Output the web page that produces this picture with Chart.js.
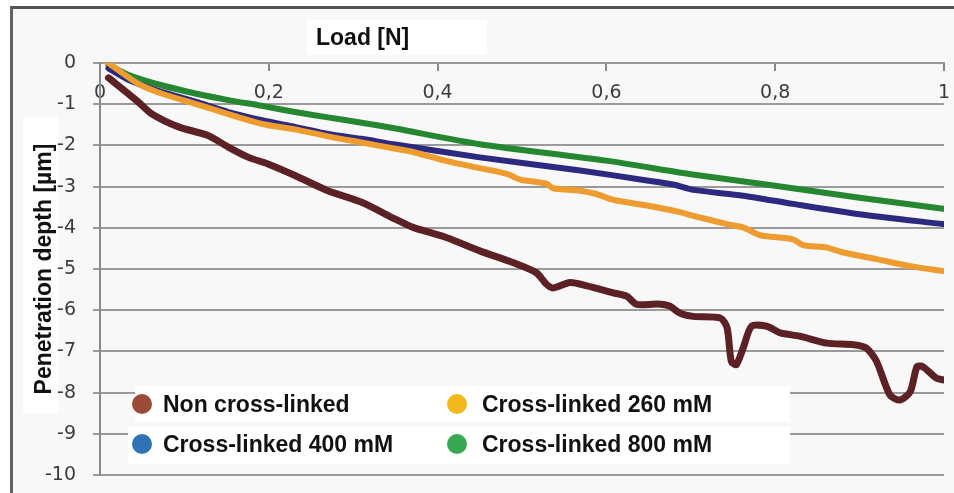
<!DOCTYPE html>
<html>
<head>
<meta charset="utf-8">
<script src="https://cdn.jsdelivr.net/npm/chart.js@4"></script>
<style>
    html, body { margin: 0; padding: 0; background: #fff; }
    #frame {
        position: absolute; left: 10px; top: 6px; width: 944px; height: 487px;
        box-sizing: border-box; border-left: 3px solid #636363; border-top: 3px solid #555;
        background: #f8f8f8;
    }
    #box { position: relative; width: 941px; height: 484px; }
</style>
</head>
<body>
<div id="frame"><div id="box"><canvas id="myChart"></canvas></div></div>
<script>
const seriesNames = ['Non cross-linked', 'Cross-linked 260 mM', 'Cross-linked 400 mM', 'Cross-linked 800 mM'];
const xTitle = 'Load [N]';
const yTitle = 'Penetration depth [µm]';

// load [N] / penetration depth [µm]
const loadNon = [0.010, 0.045, 0.061, 0.093, 0.128, 0.152, 0.176, 0.199, 0.231, 0.270, 0.310, 0.350, 0.371, 0.411,
    0.450, 0.490, 0.517, 0.529, 0.537, 0.557, 0.577, 0.608, 0.624, 0.636, 0.660, 0.675, 0.687, 0.703, 0.735, 0.743,
    0.748, 0.754, 0.762, 0.772, 0.790, 0.806, 0.829, 0.861, 0.893, 0.908, 0.920, 0.936, 0.948, 0.960, 0.968, 0.975,
    0.991, 0.999];
const depthNon = [-0.36, -0.94, -1.23, -1.55, -1.76, -2.04, -2.29, -2.45, -2.73, -3.10, -3.38, -3.79, -3.99, -4.24,
    -4.56, -4.85, -5.09, -5.37, -5.46, -5.33, -5.41, -5.58, -5.66, -5.86, -5.85, -5.90, -6.07, -6.15, -6.19, -6.43,
    -7.24, -7.32, -6.92, -6.39, -6.39, -6.55, -6.63, -6.80, -6.84, -6.92, -7.24, -8.06, -8.18, -7.98, -7.37, -7.37,
    -7.65, -7.69];

const load260 = [0.008, 0.045, 0.073, 0.113, 0.152, 0.192, 0.231, 0.270, 0.310, 0.350, 0.371, 0.411, 0.450, 0.482,
    0.498, 0.529, 0.537, 0.569, 0.588, 0.608, 0.648, 0.687, 0.703, 0.743, 0.762, 0.782, 0.821, 0.833, 0.861, 0.881,
    0.920, 0.960, 0.999];
const depth260 = [0.03, -0.50, -0.74, -0.99, -1.24, -1.48, -1.61, -1.78, -1.93, -2.08, -2.16, -2.38, -2.55, -2.69,
    -2.83, -2.93, -3.04, -3.10, -3.18, -3.32, -3.46, -3.62, -3.71, -3.91, -3.99, -4.18, -4.28, -4.42, -4.48, -4.60,
    -4.76, -4.93, -5.05];

const load400 = [0.010, 0.034, 0.073, 0.113, 0.152, 0.192, 0.231, 0.270, 0.310, 0.350, 0.450, 0.569, 0.648, 0.679,
    0.703, 0.762, 0.821, 0.900, 0.999];
const depth400 = [-0.13, -0.41, -0.70, -0.94, -1.19, -1.39, -1.55, -1.72, -1.84, -1.98, -2.29, -2.61, -2.85, -2.95,
    -3.08, -3.22, -3.42, -3.67, -3.91];

const load800 = [0.010, 0.034, 0.073, 0.113, 0.152, 0.192, 0.231, 0.270, 0.310, 0.350, 0.450, 0.600, 0.700, 0.800,
    0.900, 0.999];
const depth800 = [-0.05, -0.29, -0.54, -0.74, -0.90, -1.04, -1.19, -1.32, -1.45, -1.59, -1.97, -2.37, -2.70, -2.98,
    -3.27, -3.54];

const lineColors = ['#5b2125', '#ee9b2f', '#2b2a80', '#25872f'];
const lineWidths = [7, 6, 6, 6];
const markerColors = ['#9c4b38', '#f2b81e', '#2e74b5', '#39a853'];

const boldFont = 'bold 23px "Liberation Sans", Arial, sans-serif';

function pairs(xs, ys) {
    return xs.map((x, i) => ({x: x, y: ys[i]}));
}

// white label boxes, x title and the two-column legend
const decorations = {
    id: 'decorations',
    beforeDraw(chart) {
        const ctx = chart.ctx;
        ctx.save();
        ctx.fillStyle = '#fff';
        ctx.fillRect(294, 11, 180, 35);
        ctx.fillRect(10, 108, 35, 296);
        ctx.fillStyle = '#111';
        ctx.font = boldFont;
        ctx.textBaseline = 'middle';
        ctx.fillText(xTitle, 303, 30);
        ctx.restore();
    },
    afterDraw(chart) {
        const ctx = chart.ctx;
        ctx.save();
        ctx.fillStyle = '#fff';
        ctx.fillRect(122, 377, 655, 36);
        ctx.fillRect(115, 418, 662, 37);
        ctx.font = boldFont;
        ctx.textBaseline = 'middle';
        chart.data.datasets.forEach((ds, i) => {
            const col = i % 2, row = Math.floor(i / 2);
            const cx = col ? 444 : 129;
            const cy = row ? 435 : 395;
            ctx.fillStyle = markerColors[i];
            ctx.beginPath();
            ctx.arc(cx, cy, 10, 0, Math.PI * 2);
            ctx.fill();
            ctx.fillStyle = '#111';
            ctx.fillText(ds.label, col ? 469 : 150, cy + 2);
        });
        ctx.restore();
    }
};

const ctx = document.getElementById('myChart');

new Chart(ctx, {
    type: 'line',
    data: {
        datasets: [
            {label: seriesNames[0], data: pairs(loadNon, depthNon)},
            {label: seriesNames[1], data: pairs(load260, depth260)},
            {label: seriesNames[2], data: pairs(load400, depth400)},
            {label: seriesNames[3], data: pairs(load800, depth800)}
        ].map((ds, i) => Object.assign(ds, {
            borderColor: lineColors[i],
            backgroundColor: lineColors[i],
            borderWidth: lineWidths[i],
            borderCapStyle: 'round',
            borderJoinStyle: 'round',
            pointRadius: 0,
            tension: 0.25,
            fill: false
        }))
    },
    options: {
        responsive: true,
        maintainAspectRatio: false,
        animation: false,
        layout: {padding: {left: 0, top: 54, right: 10, bottom: 18}},
        plugins: {
            legend: {display: false},
            tooltip: {enabled: false}
        },
        scales: {
            x: {
                type: 'linear',
                position: {y: 0},
                min: 0,
                max: 1,
                afterFit: (s) => { s.height = 0; s.paddingLeft = 0; s.paddingRight = 0; },
                border: {display: true, color: '#999', width: 2},
                grid: {drawOnChartArea: false, tickLength: 7, color: '#888', lineWidth: 2},
                ticks: {
                    stepSize: 0.2,
                    padding: 12,
                    color: '#3c3c3c',
                    font: {family: '"DejaVu Sans", sans-serif', size: 19},
                    callback: (v) => String(+v.toFixed(1)).replace('.', ',')
                }
            },
            y: {
                type: 'linear',
                min: -10,
                max: 0,
                afterFit: (s) => { s.width = 87; s.paddingTop = 0; s.paddingBottom = 0; },
                border: {display: true, color: '#8a8a8a', width: 2},
                grid: {color: '#9a9a9a', lineWidth: 2, tickLength: 7},
                title: {
                    display: true,
                    text: yTitle,
                    color: '#111',
                    font: {family: '"Liberation Sans", Arial, sans-serif', size: 23, weight: 'bold'},
                    padding: {top: 18, bottom: 0}
                },
                ticks: {
                    stepSize: 1,
                    padding: 17,
                    color: '#3c3c3c',
                    font: {family: '"DejaVu Sans", sans-serif', size: 19},
                    callback: (v) => String(v)
                }
            }
        }
    },
    plugins: [decorations]
});
</script>
</body>
</html>
